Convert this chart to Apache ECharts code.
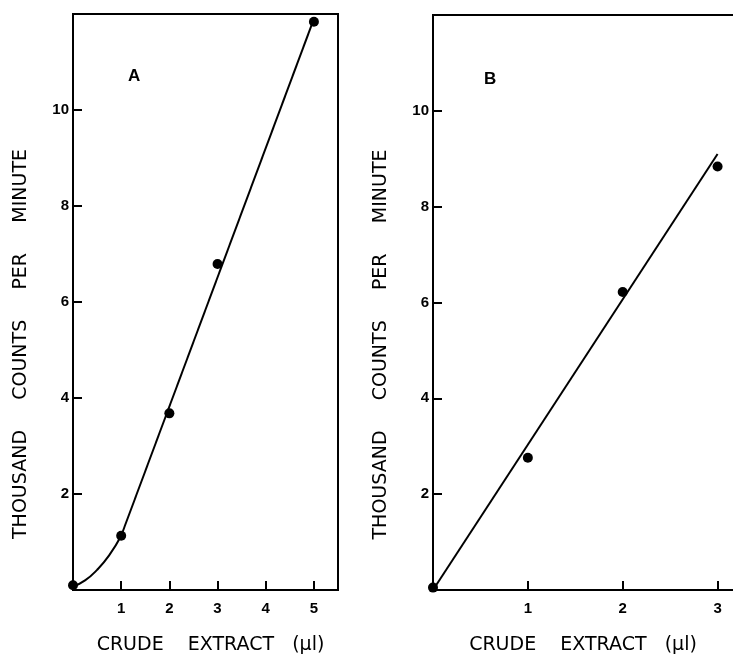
<!DOCTYPE html>
<html>
<head>
<meta charset="utf-8">
<script src="https://cdn.jsdelivr.net/npm/echarts@6/dist/echarts.min.js"></script>
<style>
  html, body { margin: 0; padding: 0; background: #fff; }
  #main { width: 733px; height: 655px; }
</style>
</head>
<body>
<div id="main"></div>
<script>
// panel A: measured points
var xA = [0, 1, 2, 3, 5];
var yA = [0.1, 1.13, 3.68, 6.79, 11.84];
// panel A: drawn curve (curved start, then straight)
var curveA = [[0, 0.07], [0.25, 0.2], [0.5, 0.42], [0.75, 0.72], [1, 1.13]];
var lineA = [[1, 1.13], [5, 11.9]];

// panel B: measured points and fitted line
var xB = [0, 1, 2, 3];
var yB = [0.05, 2.76, 6.22, 8.84];
var lineB = [[0, 0], [3, 9.1]];

var yTicks = [2, 4, 6, 8, 10];
var xTicksA = [1, 2, 3, 4, 5];
var xTicksB = [1, 2, 3];

function pairs(xs, ys) {
    return xs.map(function (x, i) { return [x, ys[i]]; });
}

var tickFont = { color: '#000', fontFamily: 'Liberation Sans', fontWeight: 'bold', fontSize: 15 };
var titleFont = { color: '#000', fontFamily: 'DejaVu Sans', fontSize: 19 };

function xAxis(idx, max, shown, pad) {
    return {
        type: 'value', gridIndex: idx, min: 0, max: max, interval: 1,
        splitLine: { show: false },
        axisLine: { lineStyle: { color: '#000', width: 2 } },
        axisTick: { inside: true, length: 9, lineStyle: { color: '#000', width: 2 } },
        axisLabel: Object.assign({
            margin: 11,
            showMaxLabel: false,
            formatter: function (v) { return shown.indexOf(v) >= 0 ? String(v) : ''; }
        }, tickFont),
        name: 'CRUDE    EXTRACT   (\u00b5l)',
        nameLocation: 'middle',
        nameGap: 46,
        nameTextStyle: Object.assign({ padding: pad }, titleFont)
    };
}

function yAxis(idx) {
    return {
        type: 'value', gridIndex: idx, min: 0, max: 12, interval: 2,
        splitLine: { show: false },
        axisLine: { lineStyle: { color: '#000', width: 2 } },
        axisTick: { inside: true, length: 9, lineStyle: { color: '#000', width: 2 } },
        axisLabel: Object.assign({
            margin: 4,
            formatter: function (v) { return yTicks.indexOf(v) >= 0 ? String(v) : ''; }
        }, tickFont),
        name: 'THOUSAND     COUNTS     PER     MINUTE',
        nameLocation: 'middle',
        nameRotate: 90,
        nameGap: 42,
        nameTextStyle: Object.assign({ padding: [0, 84, 0, 0] }, titleFont)
    };
}

var chart = echarts.init(document.getElementById('main'));
chart.setOption({
    backgroundColor: '#fff',
    animation: false,
    title: [
        { text: 'A', left: 123, top: 63, textStyle: { fontFamily: 'Liberation Sans', fontWeight: 'bold', fontSize: 17, color: '#000' } },
        { text: 'B', left: 479, top: 66, textStyle: { fontFamily: 'Liberation Sans', fontWeight: 'bold', fontSize: 17, color: '#000' } }
    ],
    grid: [
        { left: 73, top: 14, width: 265, bottom: 65, show: true, borderColor: '#000', borderWidth: 2,
          outerBoundsMode: 'none' },
        { left: 433, top: 15, width: 332, bottom: 65, show: true, borderColor: '#000', borderWidth: 2,
          outerBoundsMode: 'none' }
    ],
    xAxis: [xAxis(0, 5.5, xTicksA, [0, 0, 0, 10]), xAxis(1, 3.5, xTicksB, [0, 32, 0, 0])],
    yAxis: [yAxis(0), yAxis(1)],
    series: [
        { type: 'line', xAxisIndex: 0, yAxisIndex: 0, data: curveA, smooth: true, showSymbol: false,
          lineStyle: { color: '#000', width: 2 } },
        { type: 'line', xAxisIndex: 0, yAxisIndex: 0, data: lineA, showSymbol: false,
          lineStyle: { color: '#000', width: 2 } },
        { type: 'scatter', xAxisIndex: 0, yAxisIndex: 0, data: pairs(xA, yA), symbolSize: 10,
          itemStyle: { color: '#000', opacity: 1 } },
        { type: 'line', xAxisIndex: 1, yAxisIndex: 1, data: lineB, showSymbol: false,
          lineStyle: { color: '#000', width: 2 } },
        { type: 'scatter', xAxisIndex: 1, yAxisIndex: 1, data: pairs(xB, yB), symbolSize: 10,
          itemStyle: { color: '#000', opacity: 1 } }
    ]
});
</script>
</body>
</html>
